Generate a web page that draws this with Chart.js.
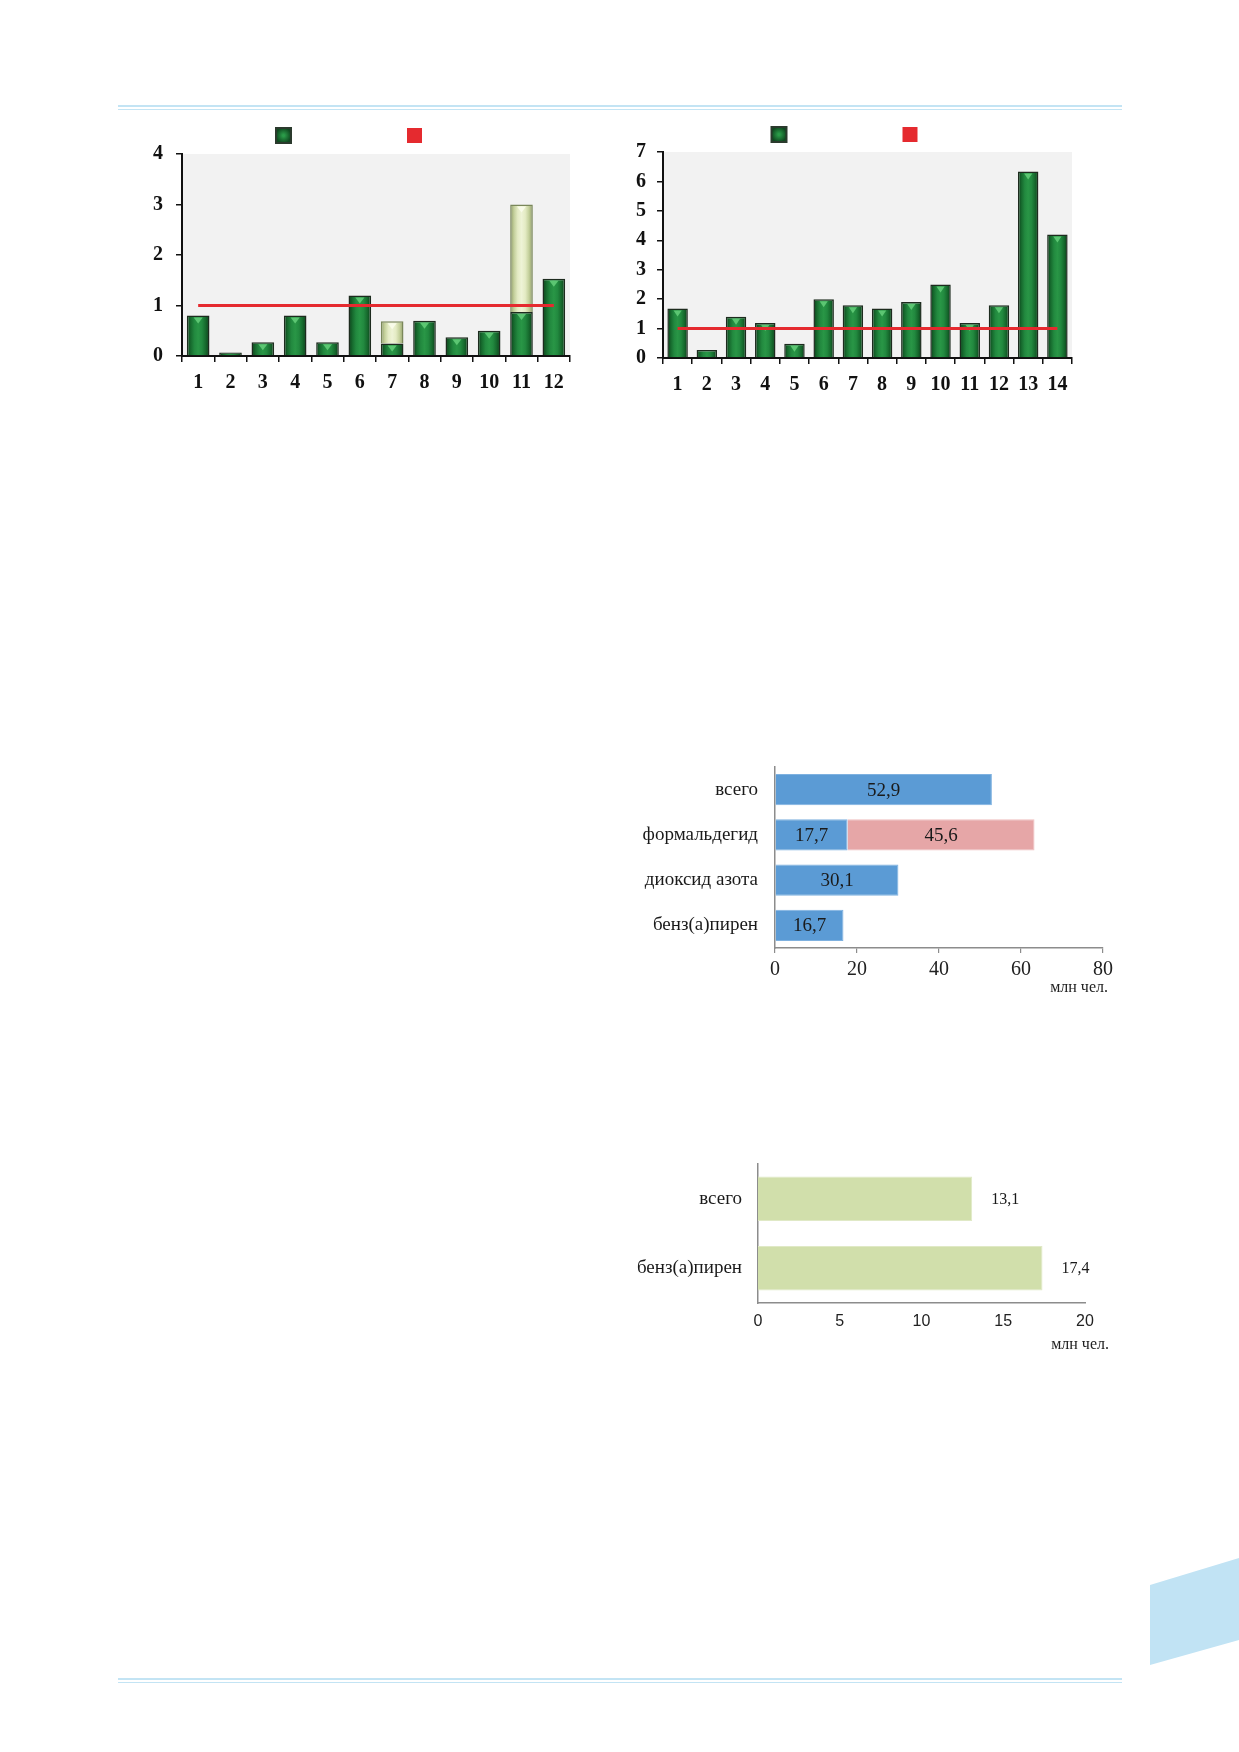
<!DOCTYPE html>
<html>
<head>
<meta charset="utf-8">
<script src="https://cdn.jsdelivr.net/npm/chart.js@4.4.1/dist/chart.umd.min.js"></script>
<style>
  body { margin: 0; background: #fff; }
  #page { position: relative; width: 1239px; height: 1752px; overflow: hidden; background: #fff; }
  canvas { position: absolute; }
  .rule { position: absolute; left: 118px; width: 1004px; height: 1.5px; background: #c3e4f4; }
</style>
</head>
<body>
<div id="page">
  <div class="rule" style="top:105px"></div>
  <div class="rule" style="top:108.5px"></div>
  <div class="rule" style="top:1678px"></div>
  <div class="rule" style="top:1681.5px"></div>
  <svg width="1239" height="1752" style="position:absolute;left:0;top:0">
    <polygon points="1150,1585 1239,1558 1239,1640 1150,1665" fill="#c1e3f4"/>
  </svg>
  <canvas id="chartA" width="470" height="310" style="left:120px;top:110px"></canvas>
  <canvas id="chartB" width="490" height="310" style="left:600px;top:110px"></canvas>
  <canvas id="chartC" width="600" height="262" style="left:560px;top:750px"></canvas>
  <canvas id="chartD" width="600" height="222" style="left:560px;top:1150px"></canvas>
</div>
<script>
// chart A (left top)
const catsA = ['1', '2', '3', '4', '5', '6', '7', '8', '9', '10', '11', '12'];
const greenA = [0.8, 0.07, 0.27, 0.8, 0.27, 1.2, 0.25, 0.7, 0.37, 0.5, 0.87, 1.53];
const extraA = [null, null, null, null, null, null, 0.44, null, null, null, 2.13, null];
const normA = [1, 1, 1, 1, 1, 1, 1, 1, 1, 1, 1, 1];

// chart B (right top)
const catsB = ['1', '2', '3', '4', '5', '6', '7', '8', '9', '10', '11', '12', '13', '14'];
const greenB = [1.68, 0.27, 1.4, 1.19, 0.48, 2.0, 1.79, 1.68, 1.9, 2.5, 1.19, 1.79, 6.34, 4.2];
const normB = [1, 1, 1, 1, 1, 1, 1, 1, 1, 1, 1, 1, 1, 1];

// chart C (middle)
const catsC = ['всего', 'формальдегид', 'диоксид азота', 'бенз(а)пирен'];
const blueC = [52.9, 17.7, 30.1, 16.7];
const pinkC = [null, 45.6, null, null];

// chart D (bottom)
const catsD = ['всего', 'бенз(а)пирен'];
const greenD = [13.1, 17.4];

const unitText = 'млн чел.';

const serif = "'Liberation Serif', 'Times New Roman', serif";
const sans = "'Liberation Sans', Arial, sans-serif";
Chart.defaults.font.family = serif;
Chart.defaults.animation = false;

const greenStops = ['#0b3b18', '#16692d', '#22893f', '#299646', '#22893f', '#16692d', '#0b3b18'];
const paleStops = ['#8d9a66', '#c3cf9a', '#e4ebc4', '#eef3d6', '#e4ebc4', '#c3cf9a', '#8d9a66'];

// horizontal gradient across each bar, bar position taken from the x scale
function glossyFill(stops, pct) {
  return function (c) {
    const chart = c.chart;
    if (c.type !== 'data' || !chart.chartArea) return stops[3];
    const xs = chart.scales.x;
    const cx = xs.getPixelForValue(c.dataIndex);
    const half = xs.width / chart.data.labels.length * pct / 2;
    const g = chart.ctx.createLinearGradient(cx - half, 0, cx + half, 0);
    stops.forEach((s, i) => g.addColorStop(i / (stops.length - 1), s));
    return g;
  };
}

const plotBg = {
  id: 'plotBg',
  beforeDraw(chart, args, opts) {
    if (!opts.color) return;
    const a = chart.chartArea;
    chart.ctx.save();
    chart.ctx.fillStyle = opts.color;
    chart.ctx.fillRect(a.left, a.top, a.right - a.left, a.bottom - a.top);
    chart.ctx.restore();
  }
};

const barGloss = {
  id: 'barGloss',
  afterDatasetDraw(chart, args) {
    const ds = chart.data.datasets[args.index];
    if (!ds.gloss) return;
    const ctx = chart.ctx;
    args.meta.data.forEach((bar, i) => {
      if (!ds.data[i]) return;
      const p = bar.getProps(['x', 'y', 'base', 'width'], true);
      const h = p.base - p.y;
      if (h < 8) return;
      const w = p.width * 0.2;
      ctx.save();
      ctx.fillStyle = ds.gloss;
      ctx.beginPath();
      ctx.moveTo(p.x - w, p.y + 2);
      ctx.lineTo(p.x + w, p.y + 2);
      ctx.lineTo(p.x, p.y + 8);
      ctx.closePath();
      ctx.fill();
      ctx.restore();
    });
  }
};

const markerLegend = {
  id: 'markerLegend',
  afterDraw(chart, args, opts) {
    if (!opts.items) return;
    const ctx = chart.ctx;
    const a = chart.chartArea;
    const cx = (a.left + a.right) / 2;
    opts.items.forEach(item => {
      const ds = chart.data.datasets[item.dataset];
      const x = cx + item.dx, y = a.top + opts.dy, s = opts.size;
      ctx.save();
      if (ds.type === 'line') {
        ctx.fillStyle = ds.borderColor;
        ctx.fillRect(x, y, s, s);
      } else {
        const g = ctx.createRadialGradient(x + s / 2, y + s / 2, 1, x + s / 2, y + s / 2, s / 2);
        g.addColorStop(0, '#2a9a48');
        g.addColorStop(1, '#0f4a20');
        ctx.fillStyle = g;
        ctx.fillRect(x, y, s, s);
        ctx.strokeStyle = '#2b3a2d';
        ctx.lineWidth = 2;
        ctx.strokeRect(x, y, s, s);
      }
      ctx.restore();
    });
  }
};

const valueLabels = {
  id: 'valueLabels',
  afterDatasetsDraw(chart, args, opts) {
    if (!opts.mode) return;
    const ctx = chart.ctx;
    ctx.save();
    ctx.font = opts.font;
    ctx.fillStyle = opts.color;
    ctx.textBaseline = 'middle';
    chart.data.datasets.forEach((ds, di) => {
      chart.getDatasetMeta(di).data.forEach((bar, i) => {
        const v = ds.data[i];
        if (v == null) return;
        const p = bar.getProps(['x', 'y', 'base'], true);
        const text = v.toFixed(1).replace('.', ',');
        if (opts.mode === 'center') {
          ctx.textAlign = 'center';
          ctx.fillText(text, (p.x + p.base) / 2, p.y + 1);
        } else {
          ctx.textAlign = 'left';
          ctx.fillText(text, p.x + opts.offset, p.y + 1);
        }
      });
    });
    ctx.restore();
  }
};

const unitLabel = {
  id: 'unitLabel',
  afterDraw(chart, args, opts) {
    if (!opts.text) return;
    const ctx = chart.ctx;
    const a = chart.chartArea;
    ctx.save();
    ctx.font = opts.font;
    ctx.fillStyle = opts.color;
    ctx.textAlign = 'right';
    ctx.textBaseline = 'middle';
    ctx.fillText(opts.text, a.right + opts.dx, a.bottom + opts.dy);
    ctx.restore();
  }
};

function topChart(id, labels, green, extra, norm, max, geo) {
  const datasets = [{
    label: 'green',
    data: green,
    backgroundColor: glossyFill(greenStops, 0.7),
    borderColor: '#1d2b1e',
    borderWidth: 1.5,
    gloss: 'rgba(110, 215, 130, 0.75)',
    barPercentage: 0.7,
    categoryPercentage: 1
  }];
  if (extra) {
    datasets.push({
      label: 'pale',
      data: extra,
      backgroundColor: glossyFill(paleStops, 0.7),
      borderColor: '#7a875a',
      borderWidth: 1.5,
      gloss: 'rgba(250, 252, 235, 0.9)',
      barPercentage: 0.7,
      categoryPercentage: 1
    });
  }
  datasets.push({
    type: 'line',
    label: 'norm',
    data: norm,
    stack: 'norm',
    borderColor: '#e52a2f',
    borderWidth: 3,
    pointRadius: 0,
    order: -1
  });

  new Chart(document.getElementById(id), {
    type: 'bar',
    data: { labels: labels, datasets: datasets },
    options: {
      responsive: false,
      layout: { padding: geo.padding },
      plugins: {
        legend: { display: false },
        tooltip: { enabled: false },
        plotBg: { color: '#f2f2f2' },
        markerLegend: { items: [{ dataset: 0, dx: geo.dx[0] }, { dataset: datasets.length - 1, dx: geo.dx[1] }], dy: geo.legendDy, size: 15 }
      },
      scales: {
        x: {
          stacked: true,
          ticks: { color: '#111', padding: 9, autoSkip: false, maxRotation: 0, font: { size: 20, weight: 'bold' } },
          grid: { drawOnChartArea: false, color: '#111', lineWidth: 1.5, tickLength: 6 },
          border: { color: '#111', width: 2 },
          afterFit: s => { s.height = geo.xH; }
        },
        y: {
          stacked: true,
          min: 0,
          max: max,
          ticks: { stepSize: 1, color: '#111', padding: geo.yPad, font: { size: 20, weight: 'bold' } },
          grid: { drawOnChartArea: false, color: '#111', lineWidth: 1.5, tickLength: 6 },
          border: { color: '#111', width: 2 },
          afterFit: s => { s.width = geo.yW; }
        }
      }
    },
    plugins: [plotBg, barGloss, markerLegend]
  });
}

topChart('chartA', catsA, greenA, extraA, normA, 4, {
  padding: { left: 10, right: 20, top: 44, bottom: 10 },
  yW: 52, xH: 54, yPad: 13, dx: [-100, 31], legendDy: -26
});
topChart('chartB', catsB, greenB, null, normB, 7, {
  padding: { left: 13, right: 18, top: 42, bottom: 10 },
  yW: 50, xH: 52, yPad: 11, dx: [-96, 35], legendDy: -25
});

// middle horizontal chart
new Chart(document.getElementById('chartC'), {
  type: 'bar',
  data: {
    labels: catsC,
    datasets: [
      { label: 'blue', data: blueC, backgroundColor: '#5b9bd5', borderColor: '#7eb1e0', borderWidth: 1, barPercentage: 0.69, categoryPercentage: 1 },
      { label: 'pink', data: pinkC, backgroundColor: '#e6a6a7', borderColor: '#efc0c0', borderWidth: 1, barPercentage: 0.69, categoryPercentage: 1 }
    ]
  },
  options: {
    indexAxis: 'y',
    responsive: false,
    layout: { padding: { left: 0, right: 57, top: 17, bottom: 14 } },
    plugins: {
      legend: { display: false },
      tooltip: { enabled: false },
      valueLabels: { mode: 'center', font: '19px ' + serif, color: '#1a1a1a' },
      unitLabel: { text: unitText, font: '16px ' + serif, color: '#222', dx: 5, dy: 40 }
    },
    scales: {
      x: {
        stacked: true,
        min: 0,
        max: 80,
        ticks: { stepSize: 20, color: '#222', padding: 5, font: { size: 20 } },
        grid: { drawOnChartArea: false, color: '#8c8c8c', lineWidth: 1.2, tickLength: 5 },
        border: { color: '#8c8c8c', width: 1.5 },
        afterFit: s => { s.height = 50; }
      },
      y: {
        stacked: true,
        ticks: { color: '#1a1a1a', padding: 17, font: { size: 19 } },
        grid: { display: false, drawTicks: false },
        border: { color: '#8c8c8c', width: 1.5 },
        afterFit: s => { s.width = 215; s.paddingTop = 0; s.paddingBottom = 0; }
      }
    }
  },
  plugins: [valueLabels, unitLabel]
});

// bottom horizontal chart
new Chart(document.getElementById('chartD'), {
  type: 'bar',
  data: {
    labels: catsD,
    datasets: [
      { label: 'green', data: greenD, backgroundColor: '#d1dfab', borderColor: '#e0e9c6', borderWidth: 1, barPercentage: 0.64, categoryPercentage: 1 }
    ]
  },
  options: {
    indexAxis: 'y',
    responsive: false,
    layout: { padding: { left: 0, right: 75, top: 14, bottom: 19 } },
    plugins: {
      legend: { display: false },
      tooltip: { enabled: false },
      valueLabels: { mode: 'end', offset: 19, font: '16px ' + serif, color: '#1a1a1a' },
      unitLabel: { text: unitText, font: '16px ' + serif, color: '#222', dx: 24, dy: 42 }
    },
    scales: {
      x: {
        min: 0,
        max: 20,
        ticks: { stepSize: 5, color: '#222', padding: 9, font: { family: sans, size: 16 } },
        grid: { display: false, drawTicks: false },
        border: { color: '#8c8c8c', width: 1.5 },
        afterFit: s => { s.height = 50; }
      },
      y: {
        ticks: { color: '#1a1a1a', padding: 16, font: { size: 19 } },
        grid: { display: false, drawTicks: false },
        border: { color: '#8c8c8c', width: 1.5 },
        afterFit: s => { s.width = 198; s.paddingTop = 0; s.paddingBottom = 0; }
      }
    }
  },
  plugins: [valueLabels, unitLabel]
});
</script>
</body>
</html>
